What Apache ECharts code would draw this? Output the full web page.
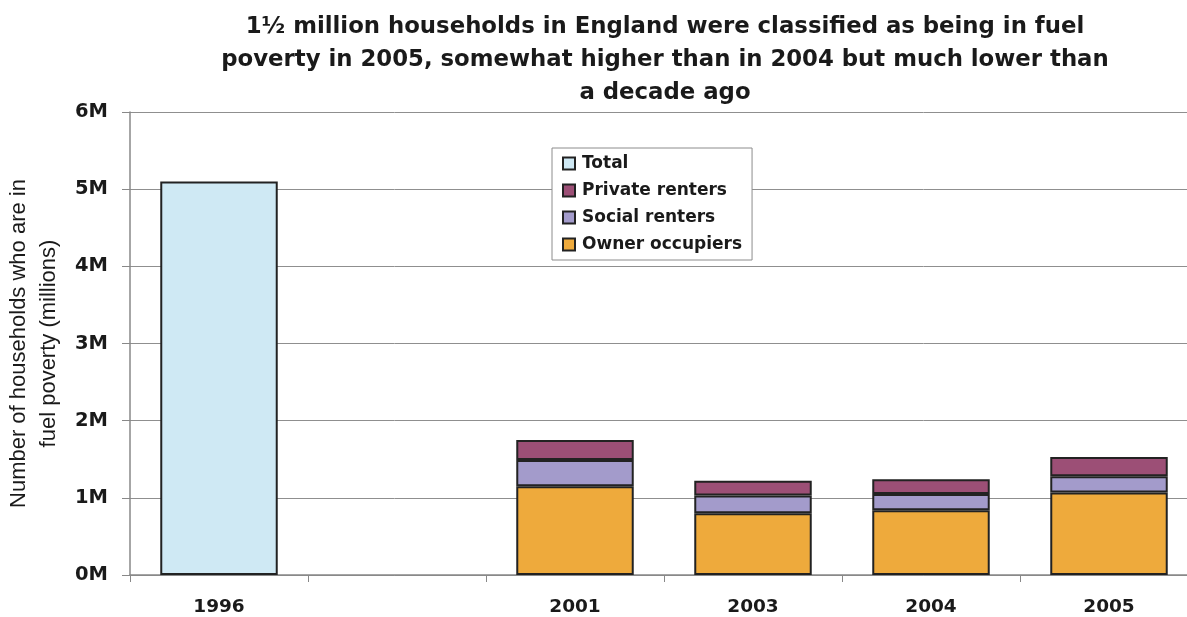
<!DOCTYPE html>
<html>
<head>
<meta charset="utf-8">
<script src="https://cdn.jsdelivr.net/npm/echarts@6/dist/echarts.min.js"></script>
<style>
  html, body { margin: 0; padding: 0; background: #fff; }
  #chart { width: 1187px; height: 617px; }
</style>
</head>
<body>
<div id="chart"></div>
<script>
// Households in fuel poverty, England (millions)
const years = ['1996', '', '2001', '2003', '2004', '2005'];
const total = [5.1, null, null, null, null, null];
const ownerOccupiers = [null, null, 1.15, 0.80, 0.84, 1.07];
const socialRenters = [null, null, 0.34, 0.23, 0.21, 0.21];
const privateRenters = [null, null, 0.26, 0.19, 0.19, 0.25];
const yTicks = [0, 1, 2, 3, 4, 5, 6];

const titleText = '1½ million households in England were classified as being in fuel\n' +
  'poverty in 2005, somewhat higher than in 2004 but much lower than\n' +
  'a decade ago';

const labelFont = 'DejaVu Sans';
const barBorder = { borderColor: '#222222', borderWidth: 2 };

const chart = echarts.init(document.getElementById('chart'), null, { renderer: 'canvas' });

chart.setOption({
  backgroundColor: '#ffffff',
  animation: false,
  title: {
    text: titleText,
    left: 660,
    top: 6,
    textAlign: 'center',
    textStyle: {
      fontFamily: labelFont,
      fontWeight: 'bold',
      fontSize: 22.8,
      lineHeight: 33,
      color: '#1a1a1a'
    }
  },
  legend: {
    orient: 'vertical',
    left: 552,
    top: 148,
    data: ['Total', 'Private renters', 'Social renters', 'Owner occupiers'],
    backgroundColor: '#ffffff',
    borderColor: '#8c8c8c',
    borderWidth: 1,
    padding: [7, 10, 7, 10],
    itemWidth: 12,
    itemHeight: 12,
    itemGap: 10,
    icon: 'rect',
    textStyle: {
      fontFamily: labelFont,
      fontWeight: 'bold',
      fontSize: 17,
      color: '#1a1a1a',
      padding: [0, 0, 0, 2]
    }
  },
  grid: {
    left: 130,
    right: -11,
    top: 112,
    bottom: 42,
    containLabel: false,
    outerBoundsMode: 'none'
  },
  xAxis: {
    type: 'category',
    data: years,
    boundaryGap: true,
    axisLine: { lineStyle: { color: '#888888', width: 1.5 } },
    axisTick: { show: true, interval: 0, length: 7, lineStyle: { color: '#888888' } },
    axisLabel: {
      interval: 0,
      margin: 23,
      fontFamily: labelFont,
      fontWeight: 'bold',
      fontSize: 18.5,
      color: '#1a1a1a'
    }
  },
  yAxis: {
    type: 'value',
    min: yTicks[0],
    max: yTicks[yTicks.length - 1],
    interval: 1,
    name: 'Number of households who are in\nfuel poverty (millions)',
    nameLocation: 'middle',
    nameGap: 57,
    nameRotate: 90,
    nameTextStyle: {
      fontFamily: 'Liberation Sans',
      fontSize: 22,
      lineHeight: 30,
      color: '#1a1a1a'
    },
    axisLine: { show: true, lineStyle: { color: '#888888', width: 1.5 } },
    axisTick: { show: true, length: 8, inside: false, lineStyle: { color: '#888888' } },
    splitLine: { show: true, lineStyle: { color: '#8f8f8f', width: 1 } },
    axisLabel: {
      margin: 22,
      formatter: function (v) { return v + 'M'; },
      fontFamily: labelFont,
      fontWeight: 'bold',
      fontSize: 19.5,
      color: '#1a1a1a'
    }
  },
  series: [
    {
      name: 'Total',
      type: 'bar',
      stack: 'households',
      barWidth: '66%',
      data: total,
      itemStyle: Object.assign({ color: '#cfe9f4' }, barBorder)
    },
    {
      name: 'Owner occupiers',
      type: 'bar',
      stack: 'households',
      barWidth: '66%',
      data: ownerOccupiers,
      itemStyle: Object.assign({ color: '#eeaa3c' }, barBorder)
    },
    {
      name: 'Social renters',
      type: 'bar',
      stack: 'households',
      barWidth: '66%',
      data: socialRenters,
      itemStyle: Object.assign({ color: '#a39bcb' }, barBorder)
    },
    {
      name: 'Private renters',
      type: 'bar',
      stack: 'households',
      barWidth: '66%',
      data: privateRenters,
      itemStyle: Object.assign({ color: '#9c4f76' }, barBorder)
    }
  ]
});
</script>
</body>
</html>
